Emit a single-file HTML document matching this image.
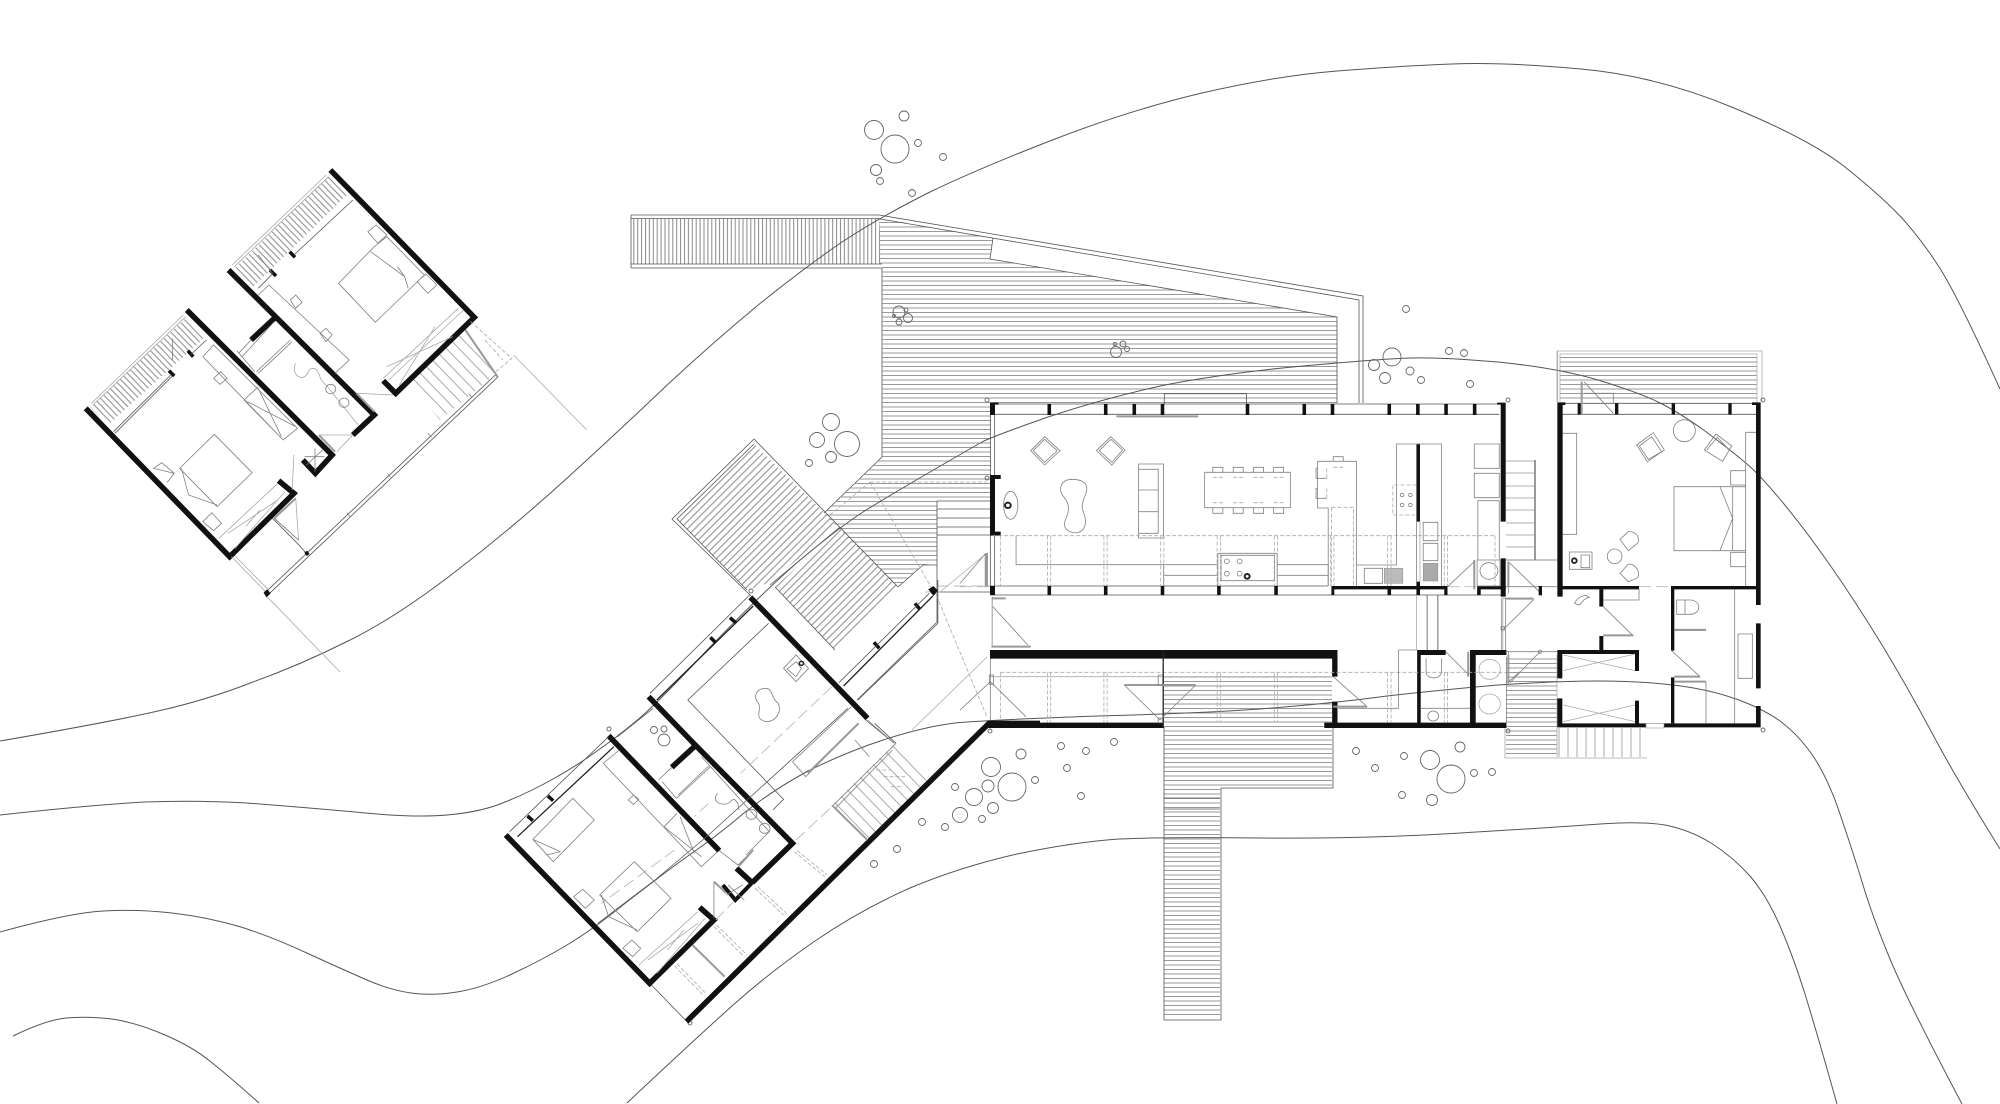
<!DOCTYPE html>
<html><head><meta charset="utf-8"><title>Plan</title>
<style>
html,body{margin:0;padding:0;background:#fff;width:2000px;height:1104px;overflow:hidden}
svg{display:block}
svg *{vector-effect:non-scaling-stroke}
.c{fill:none;stroke:#555;stroke-width:1}
.t{fill:none;stroke:#555;stroke-width:.8}
.k{fill:none;stroke:#222;stroke-width:1.3}
.f{fill:none;stroke:#808080;stroke-width:.8}
.g{fill:none;stroke:#aaa;stroke-width:.8}
.b{fill:none;stroke:#999;stroke-width:2}
.d{fill:none;stroke:#aaa;stroke-width:.8;stroke-dasharray:4 2}
.l{fill:none;stroke:#bbb;stroke-width:.9;stroke-dasharray:12 5}
.w{fill:none;stroke:#111;stroke-width:5.5;stroke-linejoin:miter}
.m{fill:none;stroke:#111;stroke-width:3.5}
.x{fill:#111;stroke:none}
.tree circle{fill:none;stroke:#666;stroke-width:.9}
</style></head><body>
<svg width="2000" height="1104" viewBox="0 0 2000 1104" xmlns="http://www.w3.org/2000/svg">
<defs>
<pattern id="ph" width="10" height="4.5" patternUnits="userSpaceOnUse"><line x1="0" y1="2" x2="10" y2="2" stroke="#999" stroke-width="1"/></pattern>
<pattern id="pv" width="3.9" height="10" patternUnits="userSpaceOnUse"><line x1="2" y1="0" x2="2" y2="10" stroke="#888" stroke-width="1"/></pattern>
<pattern id="pa" width="10" height="5.2" patternUnits="userSpaceOnUse" patternTransform="rotate(-45)"><line x1="0" y1="2" x2="10" y2="2" stroke="#888" stroke-width="1"/></pattern>
<pattern id="pb" width="10" height="4.6" patternUnits="userSpaceOnUse" patternTransform="rotate(46)"><line x1="0" y1="2" x2="10" y2="2" stroke="#888" stroke-width="1"/></pattern>
<pattern id="ps" width="10" height="9" patternUnits="userSpaceOnUse" patternTransform="rotate(46)"><line x1="0" y1="2" x2="10" y2="2" stroke="#aaa" stroke-width="1"/></pattern>
<pattern id="pt" width="9" height="10" patternUnits="userSpaceOnUse"><line x1="2" y1="0" x2="2" y2="10" stroke="#aaa" stroke-width="1"/></pattern>
</defs>

<!-- decks -->
<polygon points="631,219 879,219 882,264 631,264" fill="url(#pv)"/>
<path class="t" d="M631,215 H879 M631,218.500 H879 M631,264 H882 M631,268 V215 M631,268 H882 V457 L824,513"/>
<polygon points="879,218 993,238 990,259 1337,317 1337,403 991,403 991,500 937,500 937,563 923,565 898,587 823,513 882,457 882,266 879,264" fill="url(#ph)"/>
<path class="t" d="M879,215 L1363,296 V403 M880,219 L1359,300 V403 M993,238 L990,259 L1337,317 V403"/>
<polygon points="754,444 677,519 747,590 771,582 837,525" fill="url(#pa)"/>
<polygon points="840,528 898,587 835,650 775,587" fill="url(#pa)"/>
<path class="t" d="M754,439 L672,519 L751,596 M754,444 L677,519 L747,590 M754,439 L898,587 M770,585 L840,527 M835,650 L775,587"/>
<polygon points="1164,677 1332,677 1332,788 1220,788 1220,1018 1164,1018" fill="url(#ph)"/>
<path class="t" d="M1164,727 V1020 H1221 V788 H1333 V727 M1164,798 H1220 M1164,809 H1220"/>
<rect x="1560" y="354" width="197" height="48" fill="url(#ph)"/>
<path class="g" d="M1557,402 V351 H1762 V402 M1560,402 V354 H1757 V402"/>
<rect x="1506" y="655" width="51" height="102" fill="url(#ph)"/>
<path class="g" d="M1505,728 V758 H1647 M1557,655 V757"/>
<rect x="1557" y="728" width="90" height="29" fill="url(#pt)"/>
<g fill="none" stroke="#999" stroke-width=".8"><path d="M1506,461 H1535 M1506,473 H1535 M1506,486 H1535 M1506,498 H1535 M1506,510 H1535 M1506,523 H1535 M1506,535 H1535 M1506,547 H1535 M1506,560 H1557"/></g>
<path class="b" d="M1535,460 V560"/>
<polygon points="330,175 347,195 253,287 235,268" fill="url(#pb)"/>
<polygon points="187,317 205,337 108,425 90,407" fill="url(#pb)"/>
<polygon points="408,383 464,330 497,373 440,420" fill="url(#ps)"/>
<polygon points="832,805 896,742 930,777 868,840" fill="url(#ps)"/>
<path class="t" d="M937,501 H991 M937,509 H991 M937,518 H991 M937,527 H991 M937,535 H991 M937,501 V622 L857,700 M937,592 H990 M923,565 H937 M923,565 L898,587"/>
<path class="d" d="M870,482 H987 M870,482 L937,597 L987,717 M870,482 L830,515"/>
<path class="g" d="M912,730 L987,657 M940,592 L987,553 M925,592 L940,592"/>
<path class="l" d="M937,586 H990"/>
<path class="b" d="M987,553 V587"/>

<!-- contours -->
<path class="c" d="M0,741 Q110,722 158,711 Q207,700 253,682 Q300,665 346,642 Q392,620 451,575 Q510,530 565,480 Q620,430 665,387 Q710,345 757,306 Q804,268 842,242 Q880,217 930,192 Q980,168 1055,139 Q1130,110 1202,93 Q1275,76 1337,71 Q1400,66 1452,64 Q1505,62 1581,69 Q1658,76 1734,108 Q1811,140 1845,167 Q1880,195 1901,217 Q1922,240 1941,270 Q1960,301 2000,389"/>
<path class="c" d="M0,815 Q92,805 144,802 Q197,800 247,803 Q298,807 355,812 Q413,818 447,815 Q482,812 505,802 Q528,793 553,779 Q578,765 597,751 Q617,737 635,722 Q653,708 711,646 Q770,585 805,556 Q840,527 863,512 Q887,497 930,472 Q973,447 982,442 Q991,437 1048,417 Q1105,398 1165,385 Q1226,373 1303,366 Q1380,359 1410,358 Q1440,357 1498,362 Q1557,368 1598,380 Q1640,393 1658,402 Q1677,411 1705,431 Q1733,452 1747,464 Q1761,476 1784,504 Q1807,532 1832,568 Q1857,604 1882,645 Q1907,686 1932,733 Q1957,780 2000,849"/>
<path class="c" d="M0,932 Q69,913 103,911 Q138,909 172,913 Q207,917 241,927 Q275,938 309,954 Q344,970 367,980 Q390,990 411,993 Q432,996 457,992 Q482,988 512,974 Q542,960 567,945 Q592,930 623,905 Q655,880 685,858 Q716,837 744,813 Q773,790 808,771 Q844,753 883,740 Q923,727 955,723 Q987,720 1098,716 Q1210,713 1272,708 Q1335,703 1387,696 Q1440,690 1498,685 Q1557,681 1598,681 Q1640,681 1673,685 Q1707,689 1733,698 Q1760,707 1780,721 Q1800,736 1815,759 Q1830,783 1841,817 Q1853,852 1863,885 Q1873,918 1890,959 Q1907,1000 1962,1104"/>
<path class="c" d="M13,1036 Q46,1020 66,1018 Q87,1016 112,1019 Q138,1023 165,1035 Q193,1047 211,1062 Q230,1077 259,1103"/>
<path class="c" d="M627,1103 Q694,1040 732,1006 Q770,972 815,941 Q860,910 910,888 Q960,867 1017,854 Q1075,842 1119,839 Q1163,837 1262,838 Q1362,839 1461,833 Q1560,827 1600,824 Q1640,821 1665,825 Q1690,830 1711,843 Q1733,857 1750,876 Q1767,896 1780,926 Q1793,956 1805,994 Q1817,1033 1837,1104"/>

<!-- trees -->
<g class="tree">
<circle cx="874" cy="130" r="9.500"/><circle cx="895" cy="149" r="14"/><circle cx="904" cy="116" r="5"/><circle cx="918" cy="143" r="3.500"/><circle cx="943" cy="157" r="3.500"/><circle cx="876" cy="170" r="5.500"/><circle cx="880" cy="181" r="3.500"/><circle cx="912" cy="193" r="3.500"/>
<circle cx="1406" cy="309" r="3.500"/><circle cx="1392" cy="357" r="9"/><circle cx="1374" cy="365" r="5.500"/><circle cx="1385" cy="378" r="5.500"/><circle cx="1410" cy="371" r="4"/><circle cx="1421" cy="380" r="3.500"/><circle cx="1449" cy="351" r="3.500"/><circle cx="1464" cy="353" r="3.500"/><circle cx="1470" cy="384" r="3.500"/>
<circle cx="817" cy="440" r="7.500"/><circle cx="847" cy="444" r="12.500"/><circle cx="831" cy="457" r="5.500"/><circle cx="809" cy="463" r="3.500"/><circle cx="831" cy="422" r="8.500"/>
<circle cx="899" cy="312" r="6"/><circle cx="908" cy="318" r="4.500"/><circle cx="906" cy="310" r="2"/><circle cx="899" cy="322" r="3"/><circle cx="894" cy="316" r="1.500"/>
<circle cx="1116" cy="352" r="5.500"/><circle cx="1123" cy="344" r="3"/><circle cx="1127" cy="349" r="2.500"/><circle cx="1115" cy="344" r="1.500"/>
<circle cx="654" cy="730" r="3.500"/><circle cx="664" cy="729" r="3"/><circle cx="664" cy="740" r="6"/>
<circle cx="1021" cy="754" r="5"/><circle cx="1061" cy="746" r="3.500"/><circle cx="1086" cy="751" r="3.500"/><circle cx="1114" cy="742" r="3.500"/><circle cx="1067" cy="768" r="3.500"/><circle cx="1081" cy="796" r="3.500"/><circle cx="1035" cy="780" r="3.500"/>
<circle cx="991" cy="767" r="9.500"/><circle cx="1012" cy="787" r="14"/><circle cx="988" cy="786" r="6"/><circle cx="974" cy="797" r="8.500"/><circle cx="993" cy="808" r="5.500"/><circle cx="982" cy="819" r="3.500"/><circle cx="960" cy="815" r="7.500"/><circle cx="955" cy="787" r="3.500"/><circle cx="922" cy="822" r="3.500"/><circle cx="945" cy="827" r="3.500"/><circle cx="897" cy="849" r="3.500"/><circle cx="874" cy="864" r="3.500"/>
<circle cx="1356" cy="751" r="3.500"/><circle cx="1375" cy="768" r="3.500"/><circle cx="1404" cy="756" r="3.500"/><circle cx="1402" cy="795" r="3.500"/><circle cx="1432" cy="800" r="5.500"/><circle cx="1430" cy="760" r="9.500"/><circle cx="1451" cy="779" r="14"/><circle cx="1460" cy="747" r="5"/><circle cx="1474" cy="773" r="3.500"/><circle cx="1492" cy="772" r="3.500"/>
<circle cx="987" cy="400" r="2"/><circle cx="987" cy="478" r="2"/><circle cx="1508" cy="400" r="2"/><circle cx="1763" cy="400" r="2"/><circle cx="990" cy="731" r="2"/><circle cx="1508" cy="731" r="2"/><circle cx="1763" cy="730" r="2"/><circle cx="751" cy="591" r="2"/><circle cx="609" cy="729" r="2"/><circle cx="690" cy="1023" r="2"/>
</g>

<!-- main house -->
<g transform="translate(960,380) scale(.35714,.33333)">
<path class="t" d="M85,72 H1510 M85,103 H1510 M572,72 V41 H802 V72 M85,618 H1030 M85,645 H1525 M97,105 V285 M97,467 V618 M85,105 V285 M85,467 V618"/>
<path class="b" d="M438,109 H667"/>
<path class="x" d="M84,68 H108 V74 H98 V105 H84Z M245,72 h10 v33 h-10Z M403,72 h10 v33 h-10Z M483,72 h10 v33 h-10Z M562,72 h10 v33 h-10Z M800,72 h10 v33 h-10Z M959,72 h10 v33 h-10Z M1038,72 h10 v33 h-10Z M1197,72 h10 v33 h-10Z M1277,72 h10 v33 h-10Z M1356,72 h10 v33 h-10Z M1436,72 h10 v33 h-10Z"/>
<path class="x" d="M1504,68 H1528 V425 H1514 V74 H1504Z M1514,535 H1528 V650 H1514Z"/>
<path class="x" d="M84,285 H114 V297 H98 V455 H114 V467 H84Z M84,618 H98 V645 H84Z M245,618 h10 v27 h-10Z M403,618 h10 v27 h-10Z M562,618 h10 v27 h-10Z M720,618 h10 v27 h-10Z M880,618 h10 v27 h-10Z"/>
<path class="x" d="M1040,618 H1365 V645 H1356 V628 H1207 V645 H1197 V628 H1048 V645 H1040Z M1278,605 H1288 V645 H1278Z M1448,618 H1528 V628 H1458 V645 H1448Z"/>
<path class="x" d="M84,810 H1057 V890 H1042 V836 H84Z M1042,965 H1057 V1030 H1042Z M80,1028 H570 V1044 H80Z M1020,1028 H1530 V1044 H1020Z M1280,810 H1360 V825 H1290 V1030 H1280Z M1428,810 H1530 V825 H1444 V1030 H1428Z"/>
<path class="x" d="M1278,192 H1288 V425 H1278Z"/>
<path d="M80,1033 L0,1113" fill="none" stroke="#111" stroke-width="4.500"/>
<!-- living furniture -->
<path class="f" d="M237,170 L280,212 L237,255 L198,212Z M237,178 L272,212 L237,247 L205,212Z"/>
<path class="f" d="M422,170 L462,210 L425,255 L382,212Z M422,178 L455,210 L425,247 L390,212Z"/>
<path class="f" d="M312,298 C280,300 275,330 290,350 C310,375 305,395 295,420 C285,450 310,460 330,458 C355,450 355,420 345,395 C335,365 355,350 355,325 C355,305 335,298 312,298Z"/>
<ellipse class="f" cx="142" cy="376" rx="20" ry="42"/>
<circle cx="134" cy="376" r="8" fill="none" stroke="#222" stroke-width="2"/>
<path class="f" d="M500,252 H570 V474 H500Z M500,268 H555 V460 H500 M500,330 H555 M500,395 H555"/>
<path class="f" d="M685,277 H925 V383 H685Z M708,277 V262 H736 V277 M765,277 V262 H793 V277 M822,277 V262 H850 V277 M878,277 V262 H906 V277 M708,383 V400 H736 V383 M765,383 V400 H793 V383 M822,383 V400 H850 V383 M878,383 V400 H906 V383"/>
<path class="d" d="M708,292 H736 M765,292 H793 M822,292 H850 M878,292 H906 M708,368 H736 M765,368 H793 M822,368 H850 M878,368 H906"/>
<path class="f" d="M1001,244 H1110 V618 M1001,244 V384 H1031 V618 M1045,244 V230 H1073 V244 M1001,265 H997 V295 H1027 M1001,325 H997 V355 H1027"/>
<path class="d" d="M1040,382 H1102 V618 M1040,382 V618 M1045,262 H1075 M1027,265 V295 M1027,325 V355"/>
<path class="f" d="M1222,192 H1348 V618 M1222,192 V555 H1110 M1297,427 H1338 V482 H1297Z M1297,490 H1338 V542 H1297Z M1132,565 H1183 V610 H1132Z M1440,192 H1510 V265 H1440Z M1440,280 H1510 V353 H1440Z M1450,362 H1510 V540 M1450,362 V540 M1448,540 H1512 V618 H1448Z"/>
<rect x="1188" y="565" width="52" height="45" fill="#bbb" stroke="#888" stroke-width=".5"/>
<rect x="1297" y="550" width="41" height="53" fill="#aaa" stroke="#888" stroke-width=".5"/>
<path class="d" d="M1278,315 H1212 V405 H1278"/>
<path class="f" d="M1278,425 V605"/>
<path class="g" d="M1288,425 V605"/>
<circle class="f" cx="1238" cy="345" r="5"/><circle class="f" cx="1261" cy="345" r="5"/><circle class="f" cx="1238" cy="375" r="5"/><circle class="f" cx="1261" cy="375" r="5"/>
<circle class="f" cx="1481" cy="573" r="25"/>
<path class="f" d="M157,467 V554 H720 M570,586 H720 M570,554 V618 M888,554 H1031 V618 M888,586 H1031 M722,520 H888 V618 M722,520 V618 M731,526 H881 V602 H731Z"/>
<circle class="f" cx="747" cy="544" r="7"/><circle class="f" cx="783" cy="544" r="7"/><circle class="f" cx="747" cy="581" r="7"/><circle class="f" cx="783" cy="581" r="7"/>
<circle cx="804" cy="589" r="7" fill="none" stroke="#222" stroke-width="2"/>
<path class="d" d="M90,467 H1500 M113,467 V618 M245,467 V618 M254,467 V618 M403,467 V618 M412,467 V618 M562,467 V618 M571,467 V618 M720,467 V618 M729,467 V618 M880,467 V618 M889,467 V618 M1038,467 V618 M1047,467 V618 M1197,467 V618 M1207,467 V618 M1356,467 V618 M1365,467 V618 M1498,467 V618"/>
<path class="l" d="M0,620 H84 M1365,620 H1448"/>
<path class="d" d="M113,877 H1530 M113,877 V1028 M245,877 V1028 M254,877 V1028 M403,877 V1028 M412,877 V1028 M720,877 V1028 M729,877 V1028 M880,877 V1028 M889,877 V1028 M1197,877 V1028 M1207,877 V1028 M1356,877 V1028 M1365,877 V1028"/>
<path class="g" d="M85,890 H1040"/>
<path class="k" d="M569,810 V1044"/>
<!-- doors and corridor -->
<path class="f" d="M85,836 V1028 M90,650 V800 M92,680 L190,795 M85,905 L185,1010 M85,905 L0,990 M460,915 L560,1020 L660,915 M1045,890 L1140,980 M1228,810 V985 H1060 M1228,810 H1280"/>
<path class="b" d="M88,800 H198 M90,655 H128 M460,915 H660 M1045,980 H1140 M72,520 V620 M1440,540 V628 M1423,815 V890"/>
<path class="f" d="M0,610 L72,520 M1365,620 L1440,545 M1360,815 L1425,885"/>
<path class="g" d="M1278,645 V810 M1338,645 V810 M1520,650 V810"/>
<path class="t" d="M1308,645 V810 M1338,645 V810"/>
<path class="f" d="M1305,835 V875 C1305,900 1348,900 1348,875 V835 M1290,985 H1428"/>
<circle class="f" cx="1325" cy="1008" r="15"/>
<circle class="g" cx="1483" cy="868" r="30"/><circle class="g" cx="1483" cy="972" r="30"/>
<path class="f" d="M1530,830 V1028 M1536,815 V905"/>
<path class="f" d="M1536,905 L1568,875"/>
<rect x="1515" y="740" width="10" height="10" class="f"/>
<rect x="82" y="885" width="12" height="28" class="f"/><rect x="555" y="885" width="12" height="30" class="f"/><rect x="555" y="1014" width="12" height="14" class="f"/>
</g>

<!-- right bedroom -->
<g transform="translate(1440,340) scale(.33333)">
<path class="t" d="M368,190 H948 M368,223 H948"/>
<path class="x" d="M352,187 H376 V195 H368 V738 H597 V748 H368 V770 H352Z M413,190 h10 v34 h-10Z M525,190 h10 v34 h-10Z M695,190 h10 v34 h-10Z M865,190 h10 v34 h-10Z"/>
<path class="x" d="M936,187 H962 V795 H948 V195 H936Z M948,850 H962 V1045 H948Z M948,1098 H962 V1162 H672 V1150 H948Z"/>
<path class="x" d="M693,738 H948 V748 H703 V932 H693Z M693,1012 H703 V1150 H693Z M478,748 H490 V800 H478Z M478,888 H490 V930 H478Z"/>
<path class="x" d="M352,930 H597 V993 H585 V942 H367 V1015 H352Z M352,1075 H367 V1150 H585 V1082 H597 V1150 H618 V1162 H352Z"/>
<path class="f" d="M368,280 H410 V583 H368 M917,277 H948 M917,277 V738 M702,440 H917 V632 H702Z M878,440 V632 M840,440 L878,535 L840,632 M872,392 H917 V435 H872Z M872,637 H917 V680 H872Z"/>
<circle class="f" cx="733" cy="272" r="33"/>
<path class="f" d="M590,315 L640,278 L673,330 L622,365Z M598,318 L635,290 L665,335 L625,358Z"/>
<path class="f" d="M793,330 L828,282 L875,318 L848,364Z M800,330 L832,292 L860,322"/>
<rect x="388" y="636" width="68" height="52" class="f"/><rect x="423" y="645" width="26" height="38" class="f"/>
<circle cx="403" cy="662" r="7" fill="none" stroke="#222" stroke-width="1.800"/>
<circle class="f" cx="524" cy="649" r="22"/>
<path class="f" d="M540,598 L565,575 C590,572 605,600 590,612 L565,632Z M540,700 L565,672 C590,670 605,705 590,715 L565,725Z"/>
<path class="f" d="M710,780 H750 C785,780 785,823 750,823 H710Z M735,780 V823 M703,868 H798 M884,748 V1150 M798,1025 V1150 M705,1025 H798 M894,882 H937 V1015 H894Z"/>
<path class="b" d="M703,870 H798 M703,1025 H798 M703,1010 H780 M490,886 H580"/>
<path class="f" d="M695,932 L780,1010 M490,800 L578,886 M490,748 H597 V780 H490 M403,790 C420,760 445,765 448,772 C430,775 425,790 418,795Z"/>
<path class="g" d="M370,992 L585,942 M370,945 L585,992 M370,1145 L585,1095 M370,1095 L585,1145 M353,32 V187"/>
<path class="f" d="M425,125 V223 M432,125 L520,220 M432,160 H520 V190"/>
<path class="b" d="M425,125 V223"/>
<path class="l" d="M597,740 H693"/>
<rect x="618" y="1150" width="54" height="14" fill="#fff" stroke="#888" stroke-width=".6"/>
<path class="f" d="M197,740 H352 M205,665 V760 M205,665 L298,755 M190,775 H280 M188,870 L282,778 M185,775 V930 M197,775 V930 M352,660 H197"/>
<path class="b" d="M205,665 V740 M205,945 V1030 M195,776 H280"/>
<path class="x" d="M296,738 h10 v28 h-10Z"/>
<path class="f" d="M300,935 L210,1028 M197,935 H352"/>
<circle class="f" cx="300" cy="935" r="5"/>
</g>

<!-- upper-left houses -->
<g transform="translate(60,140) scale(.35714,.33333)">
<path class="w" d="M757,90 L1160,532 L940,760 L905,722"/>
<path class="w" d="M472,390 L880,825 L820,885"/>
<path class="w" d="M355,510 L762,945 L715,1000 L680,960"/>
<path class="w" d="M72,805 L475,1250 L655,1060 L612,1022"/>
<path class="w" d="M600,535 L535,600"/>
<path class="m" d="M643,335 L658,352 M588,390 L605,408 M358,632 L373,650 M305,692 L320,708"/>
<path class="g" d="M482,375 L745,105 M488,380 L752,110 M88,790 L345,525 M92,795 L352,530"/>
<path class="t" d="M820,180 L655,345 M595,402 L555,445 M410,600 L365,645 M310,705 L150,875 M314,709 L154,880"/>
<path class="f" d="M880,320 L780,430 L883,547 L1020,405 L915,290Z M870,335 L965,410 L975,445 M965,410 L945,380 M862,275 L885,255 L915,285 L890,310Z M1000,425 L1025,402 L1055,435 L1030,460Z"/>
<path class="f" d="M555,465 L585,435 L810,660 L770,700 M645,480 L660,465 L678,487 L660,505Z M728,580 L745,565 L762,585 L745,605Z"/>
<path class="g" d="M905,715 L1115,505 M920,720 L1130,510 M915,680 L1100,590 M950,735 L1050,560"/>
<path class="f" d="M400,650 L430,615 L665,865 L625,900 L400,650 M430,715 L450,695 L468,715 L448,733Z M515,780 L555,740 M515,780 L625,900 M555,745 L620,890 M525,785 L660,860"/>
<path class="f" d="M432,883 L538,998 L440,1100 L335,985Z M300,1027 L320,1000 L262,985 L285,968 L320,1000 M340,985 L360,1065 L440,1095 M400,1145 L425,1118 L452,1150 L430,1172Z"/>
<path class="g" d="M445,1195 L610,1030 M490,1225 L630,1055 M470,1180 L610,1080 M520,1160 L560,1110"/>
<path class="f" d="M500,640 L535,600 M510,650 L600,545 M550,695 L645,600 M555,700 L650,605 M495,632 L545,695"/>
<path class="g" d="M660,670 C650,690 660,715 680,712 C700,705 690,685 710,685 C730,690 720,715 745,735 L835,855"/>
<circle class="f" cx="758" cy="747" r="14"/><circle class="f" cx="795" cy="788" r="14"/>
<path class="b" d="M830,760 L880,815 M725,885 L770,935 M600,1135 L660,1075"/>
<path class="g" d="M835,760 L932,765 M725,885 L820,885 M820,885 L775,935 M655,945 L650,1050 M660,1075 L668,1200 L600,1135"/>
<path class="f" d="M685,950 H740 M714,925 V995 M690,975 L735,930"/>
<path class="t" d="M580,1352 L1222,702 M587,1360 L1227,710 M660,1205 L690,1240 M595,1135 L660,1205"/>
<path class="m" d="M688,1235 L695,1245"/>
<path class="f" d="M803,1118 L812,1130 M917,1000 L925,1012 M1030,880 L1040,892 M1144,760 L1153,772"/>
<path class="g" d="M480,1250 L580,1360 M490,1248 L586,1352 M1135,570 L1225,710"/>
<path class="b" d="M1135,570 L1225,710"/>
<path class="x" d="M570,1358 L580,1348 L590,1360 L578,1372Z"/>
<path class="g" d="M580,1370 L784,1596 M1270,645 L1475,870"/>
<path class="d" d="M1150,545 L1265,655 L1220,695 M1190,600 L1240,660"/>
<path class="f" d="M555,345 L595,400"/>
<path class="f" d="M315,595 L315,660 M600,1135 L668,1200"/>
</g>

<!-- lower house -->
<g transform="translate(480,560) scale(.35714,.33333)">
<path class="w" d="M757,112 L1085,475"/>
<path class="w" d="M472,410 L600,552 L875,850 L762,968"/>
<path class="w" d="M360,527 L670,872"/>
<path class="w" d="M718,925 L762,968"/>
<path class="w" d="M680,975 L715,1020 L762,968" style="stroke-width:4"/>
<path class="w" d="M72,825 L475,1270 L655,1080 L615,1042"/>
<path class="w" d="M600,560 L537,622"/>
<path class="w" d="M578,1385 L1425,490 L1568,490"/>
<path class="m" d="M700,173 L716,188 M645,232 L660,248 M190,708 L205,722 M133,768 L148,782 M1218,130 L1232,148 M1103,247 L1118,265"/>
<path class="t" d="M476,400 L755,105 M83,815 L360,530 M1005,368 L1258,100 M1058,420 L1282,190 L1282,60"/>
<path class="k" d="M495,420 L765,138 M105,830 L375,560 M1018,378 L1268,108"/>
<path class="x" d="M1255,88 L1270,78 L1282,92 L1270,108Z"/>
<path class="t" d="M385,530 L485,445 M808,190 L582,420 L850,718 L820,750"/>
<path class="t" d="M1030,445 L640,825 M640,825 L490,960 M1160,550 L1080,480 M1105,490 L1165,550 M490,960 L330,1090"/>
<path class="l" d="M985,380 L730,640 M640,730 L600,770 M545,870 L340,1030"/>
<path class="f" d="M800,385 C770,385 765,415 780,430 C790,450 765,475 800,485 C830,485 845,455 835,430 C815,415 820,385 800,385Z"/>
<path class="f" d="M850,325 L885,285 L920,325 L885,365Z M860,327 L885,305 L900,325 L885,350Z"/>
<circle cx="900" cy="310" r="6" fill="none" stroke="#222" stroke-width="1.500"/>
<path class="f" d="M260,715 L320,780 L205,905 L148,838Z M148,838 L225,875 M185,885 L225,875"/>
<path class="f" d="M345,610 L390,570 M345,610 L620,920 L665,875 M515,800 L552,760 M515,800 L620,890 M560,770 L600,880 M415,720 L430,705 L445,718 L430,733Z"/>
<path class="f" d="M432,905 L535,1015 L440,1115 L335,1005Z M262,1010 L288,988 L320,1020 L295,1045Z M400,1165 L425,1140 L450,1165 L428,1190Z M340,1005 L360,1070 L440,1110"/>
<path class="g" d="M445,1215 L610,1055 M495,1240 L630,1075 M470,1200 L610,1090 M525,1170 L570,1110"/>
<path class="f" d="M510,665 L550,715 M550,715 L645,620 M555,705 L640,618 M500,660 L537,622 M620,590 L810,815 L745,885"/>
<path class="f" d="M665,700 C650,720 665,735 690,732 C710,725 705,705 722,730 L725,750"/>
<circle class="f" cx="760" cy="763" r="15"/><circle class="f" cx="797" cy="805" r="15"/>
<path class="f" d="M670,872 L722,915 L765,870 M655,965 V1075 M695,975 L740,1020 M690,1005 L735,975"/>
<path class="b" d="M655,965 L690,1000 M725,918 L765,870"/>
<path class="d" d="M880,875 L965,950 M888,872 L972,945 M770,985 L850,1065 M778,980 L858,1060 M655,1100 L740,1190 M662,1095 L748,1185 M545,1218 L625,1305 M552,1212 L632,1300"/>
<path class="t" d="M480,1275 L575,1380"/>
<path class="b" d="M595,1155 L685,1250"/>
<path class="l" d="M660,1080 L710,1025 M885,840 L985,740"/>
<path class="f" d="M875,605 L912,650 L1060,490 M875,605 L1040,440 M1085,480 L1160,550"/>
<path class="b" d="M918,640 L1060,490"/>
<path class="f" d="M985,735 L1085,840 M985,740 L1165,550 M995,745 L1155,570 M1050,540 L1090,590"/>
<path class="b" d="M990,740 L1085,840"/>
<path class="d" d="M1110,630 H1150 M1130,650 H1190 M1150,680 H1180"/>
</g>
</svg>
</body></html>
